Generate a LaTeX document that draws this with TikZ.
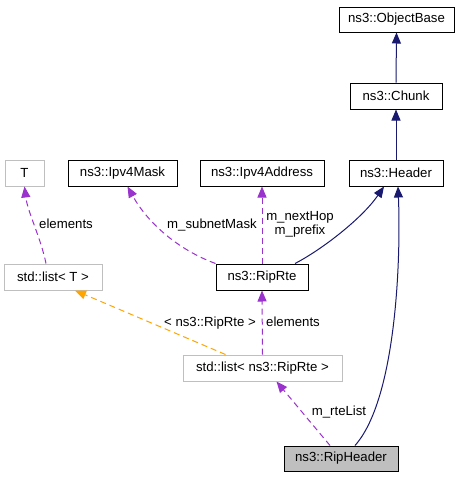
\documentclass[tikz,border=0pt]{standalone}
\usepackage{fontspec}
\setmainfont{Liberation Sans}
\usetikzlibrary{arrows.meta,calc}
\definecolor{navy}{HTML}{191970}
\definecolor{orch}{HTML}{9A32CD}
\definecolor{orng}{HTML}{FFA500}
\definecolor{grayb}{HTML}{BFBFBF}
\begin{document}
\begin{tikzpicture}[x=1pt,y=-1pt,
  box/.style={draw=black, line width=1pt, fill=white, inner sep=0pt, minimum height=26pt, font=\fontsize{13.2}{15}\selectfont},
  tbox/.style={box, draw=grayb},
  lbl/.style={font=\fontsize{13.2}{14}\selectfont, inner sep=0pt},
  inh/.style={navy, line width=1pt, -{Triangle[length=11pt,width=9pt]}},
  use/.style={orch, line width=1pt, dash pattern=on 6pt off 4pt, -{Triangle[length=11pt,width=9pt]}},
  tmpl/.style={orng, line width=1pt, dash pattern=on 6pt off 4pt, -{Triangle[length=11pt,width=9pt]}}]
\useasboundingbox[fill=white] (0,0) rectangle (460,477);

\node[box, minimum width=115pt, minimum height=25pt] (ob) at (396.5,19.5) {ns3::ObjectBase};
\node[box, minimum width=92pt] (chunk) at (396,96) {ns3::Chunk};
\node[box, minimum width=94pt] (header) at (396,173) {ns3::Header};
\node[box, minimum width=124pt] (addr) at (262,173) {ns3::Ipv4Address};
\node[box, minimum width=109pt] (mask) at (122.5,173) {ns3::Ipv4Mask};
\node[tbox, minimum width=39pt] (T) at (24.5,173) {T};
\node[tbox, minimum width=98pt] (listT) at (53,277) {std::list< T >};
\node[box, minimum width=92pt] (riprte) at (262,277) {ns3::RipRte};
\node[tbox, minimum width=159pt] (listR) at (262.5,368) {std::list< ns3::RipRte >};
\node[box, fill=grayb, minimum width=114pt, minimum height=25pt] (riph) at (341,458.5) {ns3::RipHeader};

\draw[inh] (chunk.north) -- (ob.south);
\draw[inh] (header.north) -- (chunk.south);
\draw[inh] ([xshift=33pt]riprte.north) .. controls +(27,-14) and +(-22,32) .. ([xshift=-12pt]header.south);
\draw[inh] ([xshift=14pt]riph.north) .. controls +(41,-46) and +(3,74) .. ([xshift=2pt]header.south);

\draw[use] (riprte.north west) .. controls +(-38,-14) and +(20,36) .. ([xshift=5pt]mask.south);
\draw[use] ([xshift=-7pt]listT.north) .. controls +(-5,-25) and +(3,25) .. (T.south);
\draw[use] (riprte.north) -- (addr.south);
\draw[use] (listR.north) -- (riprte.south);
\draw[tmpl] ([xshift=-37pt]listR.north) -- ([xshift=22pt]listT.south);
\draw[use] ([xshift=-11pt]riph.north) -- ([xshift=14pt]listR.south);

\node[lbl] (l1) at (212,225) {m\_subnetMask};
\node[lbl, align=center] (l2) at (300,224) {m\_nextHop\\m\_prefix};
\node[lbl] (l3) at (293,322) {elements};
\node[lbl] (l4) at (66,224) {elements};
\node[lbl] (l5) at (210,323) {< ns3::RipRte >};
\node[lbl] (l6) at (339,412) {m\_rteList};
\end{tikzpicture}
\end{document}
